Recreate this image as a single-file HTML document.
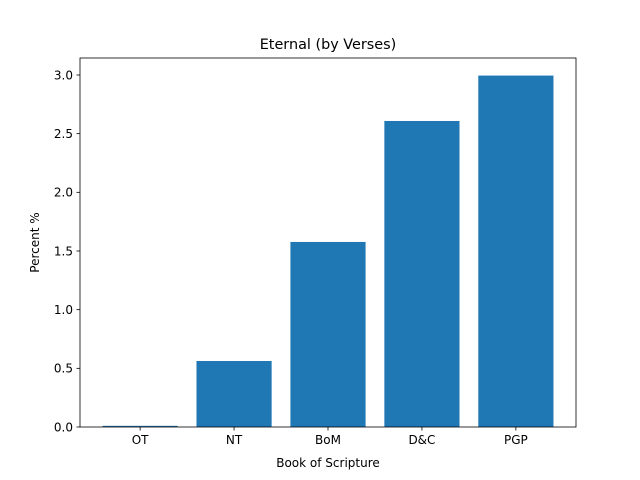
<!DOCTYPE html>
<html><head><meta charset="utf-8"><style>
body{margin:0;background:#fff;}
svg{display:block;font-family:"DejaVu Sans","Liberation Sans",sans-serif;}
</style></head><body>
<svg id="chart" width="640" height="480">
<rect width="640" height="480" fill="#fff"/>
<text x="328" y="49" font-size="14.4" text-anchor="middle">Eternal (by Verses)</text>
<g id="bars"></g>
<g id="axes"></g>
<text x="328" y="467" font-size="12" text-anchor="middle">Book of Scripture</text>
<text x="0" y="0" font-size="12" text-anchor="middle" transform="translate(39,242.5) rotate(-90)">Percent %</text>
</svg>
<script>
const categories = ["OT","NT","BoM","D&C","PGP"];
const values = [0.01, 0.5625, 1.577, 2.608, 2.995];
const yTicks = [0, 0.5, 1.0, 1.5, 2.0, 2.5, 3.0];
const yTickLabels = ["0.0","0.5","1.0","1.5","2.0","2.5","3.0"];

const L=80,R=576,T=58,B=427;
const ymax=Math.max(...values)*1.05;
const xmin=-0.64,xmax=categories.length-1+0.64;
const xs=v=>L+(v-xmin)/(xmax-xmin)*(R-L);
const ys=v=>B-v/ymax*(B-T);
const NS="http://www.w3.org/2000/svg";
const bars=document.getElementById('bars'), axes=document.getElementById('axes');
function mk(tag,attrs,parent){const e=document.createElementNS(NS,tag);for(const k in attrs)e.setAttribute(k,attrs[k]);parent.appendChild(e);return e;}
values.forEach((v,i)=>{
  const r=mk('rect',{x:xs(i-0.4),y:ys(v),width:xs(i+0.4)-xs(i-0.4),height:B-ys(v),fill:'#1f77b4'},bars);
  
  
  const t=mk('line',{x1:xs(i),x2:xs(i),y1:B,y2:B+3.5,stroke:'#000','stroke-width':0.8},axes);
  
  
  const l=mk('text',{x:xs(i),y:B+17,'font-size':12,'text-anchor':'middle'},axes);
  l.textContent=categories[i];
  
  
});
yTicks.forEach((v,i)=>{
  const t=mk('line',{x1:L-3.5,x2:L,y1:ys(v),y2:ys(v),stroke:'#000','stroke-width':0.8},axes);
  
  
  const l=mk('text',{x:L-7,y:ys(v)+4.3,'font-size':12,'text-anchor':'end'},axes);
  l.textContent=yTickLabels[i];
  
  
});
const f=mk('rect',{x:L,y:T,width:R-L,height:B-T,fill:'none',stroke:'#000','stroke-width':0.8},axes);


</script>
</body></html>
